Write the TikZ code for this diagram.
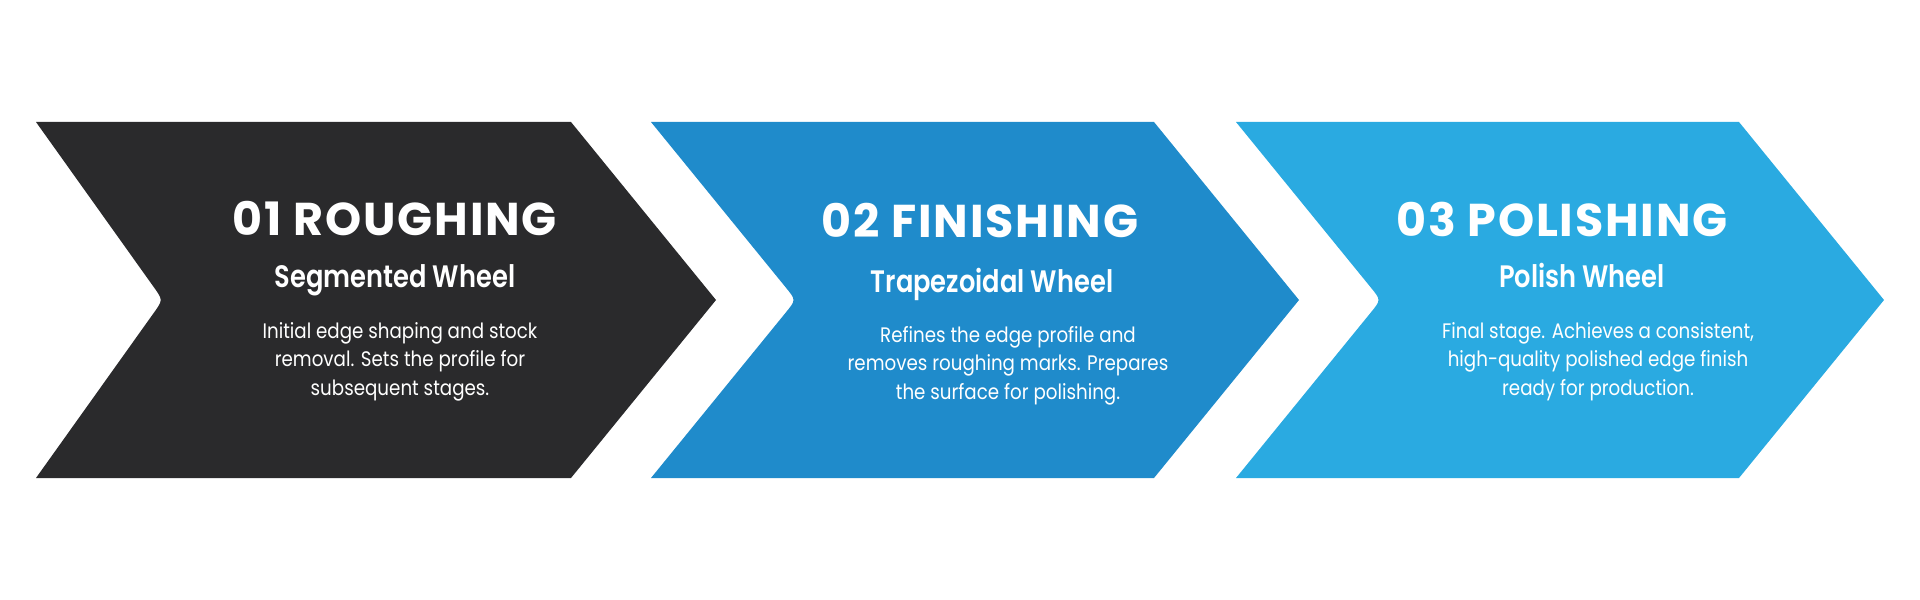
\documentclass[tikz,border=0pt]{standalone}
\usepackage{fontspec}
\setmainfont{Poppins}[FakeStretch=0.87]
\newfontfamily\stageheadfont{Poppins}[UprightFont={* Bold}, LetterSpace=4]
\newfontfamily\stagewheelfont{Poppins}[UprightFont={* SemiBold}, FakeStretch=0.83]
\usetikzlibrary{positioning,calc}
\definecolor{stagedark}{HTML}{2A2A2C}
\definecolor{stageblue}{HTML}{1F8BCB}
\definecolor{stagesky}{HTML}{2AAAE1}
\begin{document}
\begin{tikzpicture}[
        x=1bp,
        y=-1bp,
        stagetitle/.style={
            anchor=base,
            inner sep=0pt,
            text=white,
            font=\stageheadfont\fontsize{46bp}{46bp}\selectfont,
        },
        stagewheel/.style={
            inner sep=0pt,
            text=white,
            font=\stagewheelfont\fontsize{31bp}{31bp}\selectfont,
        },
        stagetext/.style={
            inner sep=0pt,
            text=white,
            align=center,
            font=\fontsize{21bp}{28.5bp}\selectfont,
        },
    ]
    \useasboundingbox (0,0) rectangle (1920,600);

    \fill[
        stagedark,
    ]
        (36,122) -- (571,122) -- (716,300) -- (571,478) -- (36,478)
        -- ($(163,300)!16bp!(36,478)$) .. controls (163,300) .. ($(163,300)!16bp!(36,122)$)
        -- cycle;
    \fill[
        stageblue,
    ]
        (651,122) -- (1154,122) -- (1299,300) -- (1154,478) -- (651,478)
        -- ($(796,300)!16bp!(651,478)$) .. controls (796,300) .. ($(796,300)!16bp!(651,122)$)
        -- cycle;
    \fill[
        stagesky,
    ]
        (1236,122) -- (1739,122) -- (1884,300) -- (1739,478) -- (1236,478)
        -- ($(1381,300)!16bp!(1236,478)$) .. controls (1381,300) .. ($(1381,300)!16bp!(1236,122)$)
        -- cycle;

    \node[stagetitle] (roughing) at (395,236) {01 ROUGHING};
    \node[stagewheel, below=51bp of roughing.base, anchor=base] (roughing-wheel) {Segmented Wheel};
    \node[stagetext, below=108bp of roughing-wheel.base, anchor=base, xshift=5bp] (roughing-text)
        {Initial edge shaping and stock\\removal. Sets the profile for\\subsequent stages.};

    \node[stagetitle] (finishing) at (980,238) {02 FINISHING};
    \node[stagewheel, below=54bp of finishing.base, anchor=base, xshift=12bp] (finishing-wheel) {Trapezoidal Wheel};
    \node[stagetext, below=107bp of finishing-wheel.base, anchor=base, xshift=16bp] (finishing-text)
        {Refines the edge profile and\\removes roughing marks. Prepares\\the surface for polishing.};

    \node[stagetitle] (polishing) at (1562,237) {03 POLISHING};
    \node[stagewheel, below=50bp of polishing.base, anchor=base, xshift=20bp] (polishing-wheel) {Polish Wheel};
    \node[stagetext, below=108bp of polishing-wheel.base, anchor=base, xshift=16bp] (polishing-text)
        {Final stage. Achieves a consistent,\\high-quality polished edge finish\\ready for production.};
\end{tikzpicture}
\end{document}
